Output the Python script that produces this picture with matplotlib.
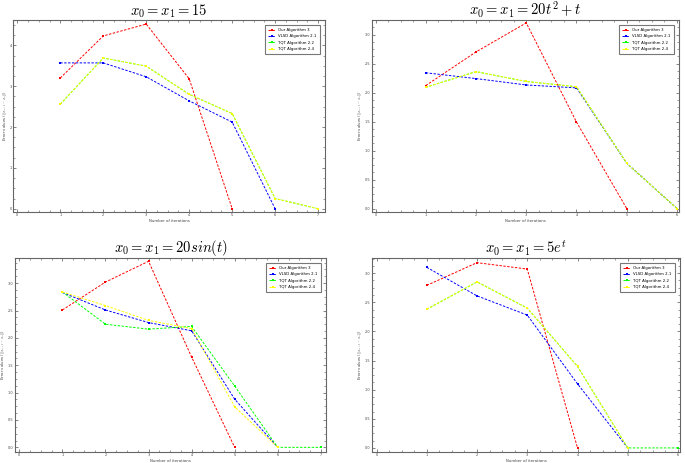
import matplotlib
matplotlib.use("Agg")
import matplotlib.pyplot as plt
from matplotlib.ticker import AutoMinorLocator, MultipleLocator

plt.rcParams['mathtext.fontset'] = 'cm'

# --- data ---
titles = [r"$x_0 = x_1 = 15$", r"$x_0 = x_1 = 20t^2 + t$",
          r"$x_0 = x_1 = 20sin(t)$", r"$x_0 = x_1 = 5e^t$"]
labels = ["Our Algorithm 3", "VLSD Algorithm 2.1", "TQT Algorithm 2.2", "TQT Algorithm 2.4"]
colors = ["#ff0000", "#0000ff", "#00ff00", "#ffff00"]

# panel 1: x0 = x1 = 15
p1_x = [[1, 2, 3, 4, 5], [1, 2, 3, 4, 5, 6], [1, 2, 3, 4, 5, 6, 7], [1, 2, 3, 4, 5, 6, 7]]
p1_y = [[3.2, 4.23, 4.52, 3.18, 0.0],
        [3.57, 3.57, 3.23, 2.64, 2.12, 0.0],
        [2.56, 3.69, 3.49, 2.80, 2.33, 0.25, 0.0],
        [2.56, 3.69, 3.49, 2.80, 2.33, 0.25, 0.0]]

# panel 2: x0 = x1 = 20t^2 + t
p2_x = [[1, 2, 3, 4, 5], [1, 2, 3, 4, 5, 6], [1, 2, 3, 4, 5, 6], [1, 2, 3, 4, 5, 6]]
p2_y = [[2.12, 2.70, 3.20, 1.49, 0.0],
        [2.34, 2.24, 2.13, 2.08, 0.78, 0.0],
        [2.09, 2.36, 2.19, 2.10, 0.78, 0.0],
        [2.09, 2.36, 2.19, 2.10, 0.78, 0.0]]

# panel 3: x0 = x1 = 20 sin(t)
p3_x = [[1, 2, 3, 4, 5], [1, 2, 3, 4, 5, 6], [1, 2, 3, 4, 5, 6, 7], [1, 2, 3, 4, 5, 6]]
p3_y = [[2.51, 3.02, 3.40, 1.65, 0.0],
        [2.83, 2.51, 2.28, 2.13, 0.88, 0.0],
        [2.84, 2.25, 2.16, 2.21, 1.12, 0.0, 0.0],
        [2.84, 2.59, 2.32, 2.17, 0.74, 0.0]]

# panel 4: x0 = x1 = 5e^t
p4_x = [[1, 2, 3, 4], [1, 2, 3, 4, 5], [1, 2, 3, 4, 5, 6], [1, 2, 3, 4, 5]]
p4_y = [[2.79, 3.18, 3.07, 0.0],
        [3.10, 2.61, 2.28, 1.10, 0.0],
        [2.38, 2.85, 2.40, 1.40, 0.0, 0.0],
        [2.38, 2.85, 2.40, 1.40, 0.0]]

panels = [(p1_x, p1_y), (p2_x, p2_y), (p3_x, p3_y), (p4_x, p4_y)]

W, H = 685, 463
fig = plt.figure(figsize=(W / 100, H / 100), dpi=100)

# axes boxes in pixels: left, top, right, bottom
boxes = [(13, 20, 325, 212), (372, 20, 679, 212), (15, 258, 326, 452), (372, 258, 680, 452)]
xlims = [(-0.1, 7.16), (-0.07, 6.04), (-0.1, 7.12), (-0.09, 6.04)]
ylims = [(-0.08, 4.62), (-0.06, 3.25), (-0.085, 3.46), (-0.07, 3.26)]
ysteps = [1, 0.5, 0.5, 0.5]

for i, (xs, ys) in enumerate(panels):
    l, t, r, b = boxes[i]
    ax = fig.add_axes([l / W, 1 - b / H, (r - l) / W, (b - t) / H])
    for k in range(4):
        ax.plot(xs[k], ys[k], linestyle=(0, (2.5, 1.5)), lw=0.7, color=colors[k],
                marker='s', ms=1.9, mew=0, label=labels[k])
    ax.set_xlim(*xlims[i])
    ax.set_ylim(*ylims[i])
    ax.xaxis.set_major_locator(MultipleLocator(1))
    ax.yaxis.set_major_locator(MultipleLocator(ysteps[i]))
    ax.xaxis.set_minor_locator(AutoMinorLocator(4))
    ax.yaxis.set_minor_locator(AutoMinorLocator(4))
    ax.tick_params(which='both', direction='in', top=True, right=True,
                   labelsize=2.5, pad=1, color='#555555', labelcolor='#444444')
    ax.tick_params(which='major', length=2.5, width=0.5)
    ax.tick_params(which='minor', length=1.2, width=0.4)
    for sp in ax.spines.values():
        sp.set_color('#666666')
        sp.set_linewidth(0.8)
    ax.set_xlabel("Number of iterations", fontsize=2.8, labelpad=1, color='#444444')
    ax.set_ylabel(r"Error values ($\|x_{n+1}-x_n\|$)", fontsize=2.8, labelpad=0.5, color='#444444')
    ax.set_title(titles[i], fontsize=10.5, pad=1.5)
    leg = ax.legend(loc='upper right', fontsize=2.8, frameon=True, fancybox=False,
                    handlelength=1.8, borderpad=0.8, labelspacing=0.6,
                    borderaxespad=1.3)
    leg.get_frame().set_edgecolor('#555555')
    leg.get_frame().set_linewidth(0.8)

fig.savefig("out.png", dpi=100)
